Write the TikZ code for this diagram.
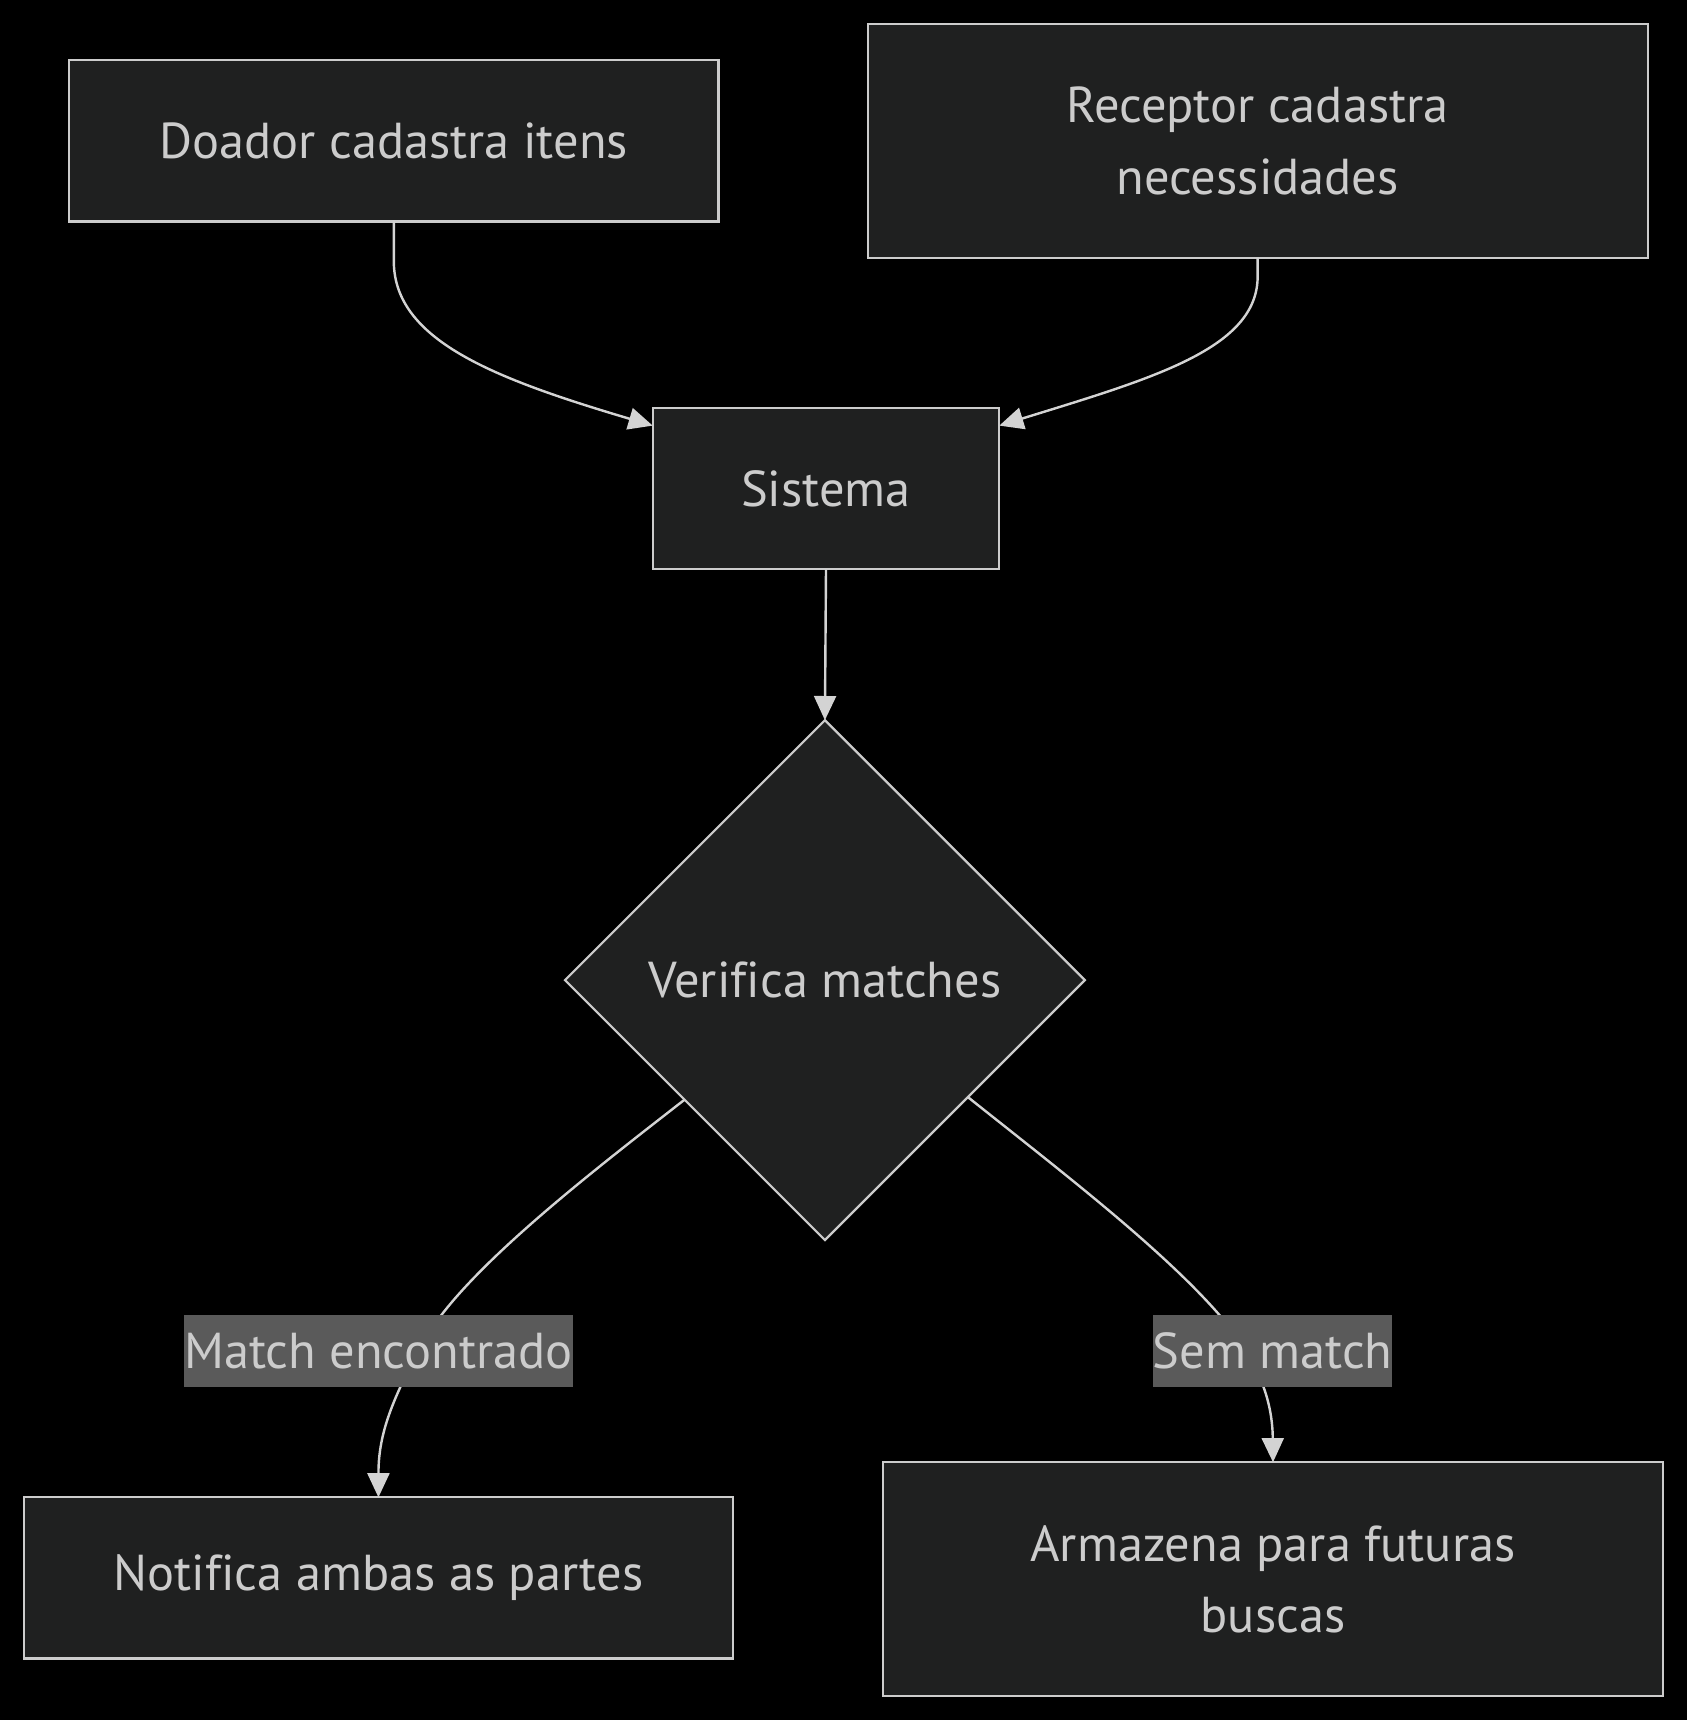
\documentclass[tikz,border=0pt]{standalone}
\usepackage{fontspec}
\setmainfont[Ligatures=NoCommon]{PT Sans}
\usetikzlibrary{shapes.geometric,arrows.meta,calc}
\definecolor{nodefill}{HTML}{1F2020}
\definecolor{nodeline}{HTML}{CCCCCC}
\definecolor{txt}{HTML}{CCCCCC}
\definecolor{edgecol}{HTML}{D3D3D3}
\definecolor{lblfill}{HTML}{5A5A5A}
\begin{document}
\begin{tikzpicture}[x=1pt,y=-1pt,
  box/.style={draw=nodeline,fill=nodefill,line width=2pt,inner sep=0pt,outer sep=0pt,
    text=txt,align=center,font=\fontsize{46}{65}\selectfont},
  decis/.style={diamond,draw=nodeline,fill=nodefill,line width=2pt,inner sep=0pt,outer sep=0pt,
    text=txt,font=\fontsize{46}{65}\selectfont,minimum width=474pt,minimum height=474pt},
  edgelbl/.style={fill=lblfill,inner sep=0pt,outer sep=0pt,text=txt,
    font=\fontsize{46}{65}\selectfont,minimum height=65pt},
  flow/.style={draw=edgecol,line width=2.2pt,-{Triangle[length=22pt,width=20pt]}}]
\fill[black] (0,0) rectangle (1538,1568);
\useasboundingbox (0,0) rectangle (1538,1568);

\node[box,minimum width=592pt,minimum height=147pt] (doa) at (359,128.5) {Doador cadastra itens};
\node[box,minimum width=711pt,minimum height=213pt] (rec) at (1146.5,128.5) {Receptor cadastra\\necessidades};
\node[box,minimum width=316pt,minimum height=147pt] (sis) at (753,445.5) {Sistema};
\node[decis] (ver) at (752,893.5) {Verifica matches};
\node[box,minimum width=646pt,minimum height=147pt] (not) at (345,1438.5) {Notifica ambas as partes};
\node[box,minimum width=711pt,minimum height=213pt] (arm) at (1160.5,1439.5) {Armazena para futuras\\buscas};

\draw[flow] (doa.south) -- (359,238) .. controls (359,310) and (450,345) .. ([yshift=-16pt]sis.north west);
\draw[flow] (rec.south) -- (1146.5,252) .. controls (1146.5,318) and (1050,345) .. ([yshift=-16pt]sis.north east);
\draw[flow] (sis.south) -- (ver.north);
\draw[flow] ($(ver.west)!0.46!(ver.south)$) .. controls (540,1068) and (420,1160) .. (385,1225)
  .. controls (355,1280) and (345,1310) .. (not.north);
\draw[flow] ($(ver.east)!0.45!(ver.south)$) .. controls (970,1070) and (1075,1150) .. (1125,1215)
  .. controls (1150,1250) and (1160,1280) .. (arm.north);

\node[edgelbl,minimum width=352pt] (lm) at (345,1231.5) {Match encontrado};
\node[edgelbl,minimum width=216pt] (ls) at (1160,1231.5) {Sem match};
\end{tikzpicture}
\end{document}
